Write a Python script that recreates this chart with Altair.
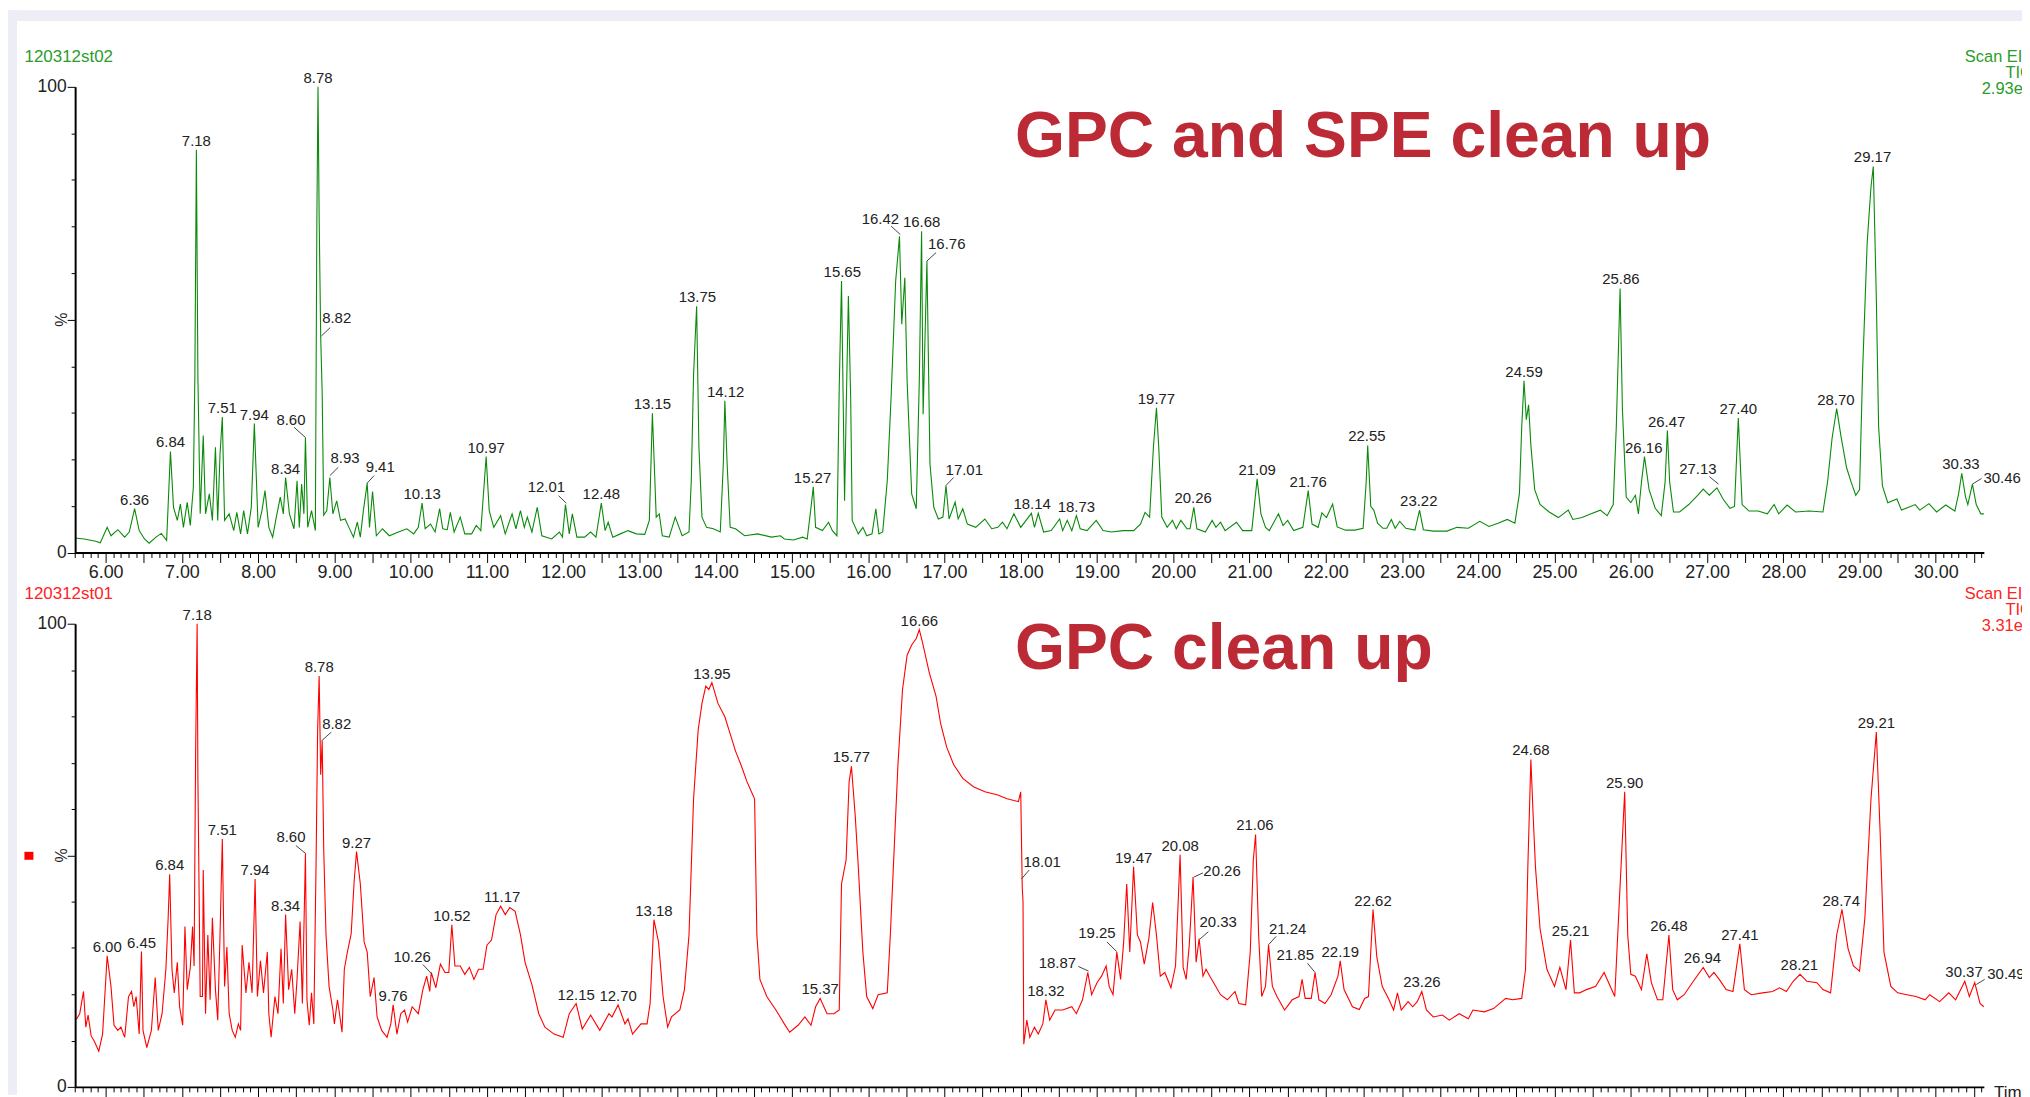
import altair as alt
import pandas as pd

# ------------------------------------------------------------------ data
# (retention time [min], relative intensity [%])
TOP_TRACE = [
    (5.60, 3.1), (5.72, 2.9), (5.87, 2.4), (5.93, 2.1), (6.02, 5.4), (6.07, 3.6), (6.16, 4.9), (6.25, 3.3),
    (6.31, 4.4), (6.38, 9.4), (6.44, 4.7), (6.51, 2.9), (6.57, 2.0), (6.66, 3.3), (6.73, 4.1), (6.80, 2.6),
    (6.85, 21.7), (6.89, 9.7), (6.94, 6.9), (6.98, 10.4), (7.02, 5.4), (7.07, 10.8), (7.11, 5.8), (7.15, 14.0),
    (7.17, 37.6), (7.19, 86.5), (7.21, 37.6), (7.24, 8.3), (7.28, 25.1), (7.31, 8.3), (7.36, 12.6), (7.40, 6.9),
    (7.44, 22.6), (7.47, 6.9), (7.50, 21.1), (7.53, 29.1), (7.56, 6.9), (7.62, 8.3), (7.68, 4.7), (7.72, 8.6),
    (7.77, 4.0), (7.81, 9.0), (7.86, 4.0), (7.91, 9.7), (7.95, 27.7), (8.00, 5.4), (8.05, 9.0), (8.09, 13.3),
    (8.14, 5.4), (8.19, 3.3), (8.23, 6.9), (8.29, 11.9), (8.33, 8.3), (8.36, 16.1), (8.41, 8.3), (8.47, 5.1),
    (8.51, 15.4), (8.54, 5.4), (8.57, 14.7), (8.60, 8.3), (8.62, 24.7), (8.65, 5.4), (8.70, 9.0), (8.75, 4.7),
    (8.77, 71.7), (8.785, 100.0), (8.80, 71.7), (8.82, 46.5), (8.84, 34.0), (8.86, 8.0), (8.90, 9.0), (8.94, 16.1),
    (8.98, 8.3), (9.03, 11.1), (9.08, 6.9), (9.14, 7.2), (9.19, 5.4), (9.25, 3.3), (9.30, 6.5), (9.34, 3.3),
    (9.38, 9.0), (9.43, 14.9), (9.46, 5.4), (9.50, 13.1), (9.55, 3.6), (9.63, 5.1), (9.72, 3.6), (9.84, 4.4),
    (9.95, 5.1), (10.04, 4.0), (10.10, 5.4), (10.15, 10.6), (10.19, 5.1), (10.26, 6.1), (10.32, 4.4), (10.38, 9.4),
    (10.42, 5.1), (10.48, 4.9), (10.52, 8.6), (10.57, 4.4), (10.65, 7.6), (10.71, 4.0), (10.80, 4.0), (10.86, 5.8),
    (10.92, 4.7), (10.99, 20.6), (11.03, 9.0), (11.09, 5.4), (11.18, 7.9), (11.24, 4.0), (11.33, 8.3), (11.38, 5.1),
    (11.44, 9.0), (11.49, 5.4), (11.53, 7.6), (11.59, 4.4), (11.66, 9.7), (11.72, 3.6), (11.85, 2.9), (11.95, 4.4),
    (11.99, 3.3), (12.03, 10.3), (12.08, 4.0), (12.12, 8.3), (12.18, 3.3), (12.28, 3.3), (12.36, 4.4), (12.43, 3.3),
    (12.50, 10.6), (12.55, 4.7), (12.59, 6.5), (12.65, 3.3), (12.75, 4.0), (12.85, 4.7), (12.96, 4.0), (13.07, 3.9),
    (13.13, 6.9), (13.17, 29.9), (13.22, 7.6), (13.26, 8.3), (13.30, 3.6), (13.39, 3.3), (13.47, 7.6), (13.56, 3.6),
    (13.65, 4.4), (13.68, 15.4), (13.71, 38.3), (13.75, 52.9), (13.78, 22.6), (13.82, 7.6), (13.88, 5.4), (13.97, 5.1),
    (14.06, 4.4), (14.10, 19.0), (14.12, 32.6), (14.15, 19.0), (14.19, 5.4), (14.26, 5.1), (14.38, 3.6), (14.55, 4.0),
    (14.73, 3.3), (14.85, 3.6), (14.90, 2.9), (15.02, 2.7), (15.14, 3.3), (15.20, 2.9), (15.24, 8.3), (15.28, 14.1),
    (15.31, 5.4), (15.40, 4.7), (15.48, 6.5), (15.53, 4.7), (15.59, 3.6), (15.62, 35.4), (15.65, 58.3), (15.69, 11.1),
    (15.71, 29.7), (15.74, 55.1), (15.77, 33.3), (15.79, 6.9), (15.87, 4.0), (15.93, 5.4), (15.98, 3.6), (16.05, 4.0),
    (16.10, 9.4), (16.14, 4.0), (16.19, 4.4), (16.25, 15.4), (16.30, 33.3), (16.36, 58.3), (16.41, 67.9), (16.44, 49.0),
    (16.48, 59.0), (16.51, 36.9), (16.57, 12.6), (16.63, 9.4), (16.67, 36.9), (16.70, 69.0), (16.72, 29.7), (16.77, 62.6),
    (16.81, 19.0), (16.86, 9.7), (16.92, 7.2), (16.98, 7.6), (17.02, 14.4), (17.06, 7.2), (17.14, 10.8), (17.18, 7.2),
    (17.24, 9.4), (17.30, 6.1), (17.41, 5.4), (17.53, 7.2), (17.62, 5.1), (17.70, 5.4), (17.76, 6.5), (17.82, 5.1),
    (17.91, 8.3), (18.00, 5.4), (18.14, 8.4), (18.18, 5.4), (18.23, 8.4), (18.30, 4.4), (18.40, 4.7), (18.51, 7.2),
    (18.55, 4.7), (18.61, 6.9), (18.67, 4.7), (18.73, 7.9), (18.78, 5.1), (18.87, 4.7), (18.99, 6.9), (19.08, 4.7),
    (19.19, 4.4), (19.34, 4.7), (19.48, 4.7), (19.57, 6.1), (19.63, 8.6), (19.69, 7.6), (19.74, 22.6), (19.78, 31.1),
    (19.81, 22.6), (19.85, 7.6), (19.92, 5.4), (19.99, 6.9), (20.04, 5.1), (20.10, 6.9), (20.18, 5.1), (20.22, 5.1),
    (20.27, 9.7), (20.31, 5.1), (20.42, 4.4), (20.51, 6.9), (20.56, 5.4), (20.62, 6.5), (20.68, 4.7), (20.83, 6.5),
    (20.91, 4.7), (21.03, 4.7), (21.10, 15.8), (21.15, 8.3), (21.21, 5.4), (21.26, 4.7), (21.38, 8.3), (21.44, 5.8),
    (21.50, 6.9), (21.58, 4.7), (21.70, 5.4), (21.77, 13.3), (21.82, 6.1), (21.90, 5.4), (21.95, 8.5), (22.01, 7.5),
    (22.09, 10.4), (22.15, 5.5), (22.26, 4.8), (22.38, 4.8), (22.49, 5.2), (22.53, 15.1), (22.55, 23.0), (22.59, 9.9),
    (22.63, 9.1), (22.68, 6.3), (22.75, 5.2), (22.80, 5.2), (22.86, 7.1), (22.91, 5.2), (22.97, 6.7), (23.05, 5.2),
    (23.17, 4.8), (23.23, 9.1), (23.28, 4.9), (23.41, 4.6), (23.59, 4.6), (23.72, 5.4), (23.87, 5.2), (24.02, 6.7),
    (24.14, 5.6), (24.26, 6.3), (24.38, 7.1), (24.48, 6.3), (24.54, 12.7), (24.57, 27.0), (24.60, 36.9), (24.63, 28.5),
    (24.66, 31.7), (24.69, 23.0), (24.74, 13.5), (24.81, 10.3), (24.93, 8.7), (25.05, 7.5), (25.18, 9.1), (25.24, 7.1),
    (25.36, 7.5), (25.48, 8.3), (25.60, 9.1), (25.69, 7.9), (25.77, 10.3), (25.81, 27.0), (25.86, 56.7), (25.89, 30.9),
    (25.94, 11.9), (26.00, 10.7), (26.06, 12.3), (26.10, 8.3), (26.14, 15.1), (26.18, 20.6), (26.24, 13.5), (26.32, 9.5),
    (26.40, 7.9), (26.45, 15.1), (26.48, 26.2), (26.51, 15.1), (26.56, 8.7), (26.64, 8.7), (26.76, 10.3), (26.88, 12.3),
    (26.95, 13.6), (27.03, 12.3), (27.13, 13.9), (27.21, 11.5), (27.30, 9.5), (27.36, 9.9), (27.41, 28.9), (27.46, 10.3),
    (27.55, 8.9), (27.67, 8.9), (27.79, 8.3), (27.88, 10.3), (27.94, 8.3), (28.05, 10.2), (28.16, 8.7), (28.34, 8.9),
    (28.52, 8.7), (28.58, 15.1), (28.64, 24.6), (28.70, 30.9), (28.76, 24.6), (28.83, 18.2), (28.89, 15.1), (28.95, 12.3),
    (29.00, 13.5), (29.04, 38.9), (29.10, 66.6), (29.15, 78.5), (29.18, 82.9), (29.22, 54.7), (29.25, 27.0), (29.30, 14.3),
    (29.37, 10.7), (29.49, 11.5), (29.55, 9.1), (29.73, 10.3), (29.79, 9.1), (29.91, 10.5), (30.01, 8.7), (30.13, 10.2),
    (30.25, 8.9), (30.30, 12.7), (30.34, 17.0), (30.39, 11.9), (30.42, 10.3), (30.48, 14.7), (30.53, 10.3), (30.59, 8.3),
    (30.63, 8.3),
]

BOTTOM_TRACE = [
    (5.60, 14.7), (5.62, 14.7), (5.66, 15.8), (5.71, 20.6), (5.74, 12.9), (5.77, 15.5), (5.81, 11.0), (5.85, 9.9),
    (5.91, 7.7), (5.96, 11.4), (6.02, 28.3), (6.07, 21.7), (6.11, 13.3), (6.16, 12.2), (6.20, 12.9), (6.25, 10.7),
    (6.30, 19.5), (6.34, 20.6), (6.37, 17.3), (6.40, 19.5), (6.44, 11.4), (6.47, 29.2), (6.49, 12.2), (6.54, 8.5),
    (6.60, 12.2), (6.65, 23.6), (6.69, 12.2), (6.74, 15.8), (6.79, 25.4), (6.82, 36.5), (6.84, 45.9), (6.87, 25.4),
    (6.90, 20.3), (6.94, 26.9), (6.97, 17.3), (7.01, 13.3), (7.04, 34.6), (7.07, 21.0), (7.11, 25.8), (7.14, 34.6),
    (7.16, 26.1), (7.18, 72.2), (7.20, 100.0), (7.21, 66.3), (7.24, 19.5), (7.27, 19.5), (7.28, 46.8), (7.31, 15.8),
    (7.34, 32.8), (7.37, 18.8), (7.40, 36.5), (7.44, 21.0), (7.47, 14.4), (7.50, 32.8), (7.53, 53.5), (7.56, 21.7),
    (7.59, 30.2), (7.62, 15.8), (7.66, 12.2), (7.70, 10.7), (7.74, 13.6), (7.77, 12.2), (7.79, 30.6), (7.84, 20.3),
    (7.88, 26.9), (7.92, 20.3), (7.96, 44.9), (7.99, 19.5), (8.03, 27.2), (8.07, 20.3), (8.12, 29.1), (8.14, 15.8),
    (8.17, 10.7), (8.22, 19.5), (8.26, 15.8), (8.30, 29.8), (8.33, 18.0), (8.36, 37.2), (8.40, 21.0), (8.44, 25.4),
    (8.48, 15.8), (8.51, 23.2), (8.55, 35.7), (8.58, 18.0), (8.62, 50.3), (8.64, 18.8), (8.67, 13.3), (8.70, 20.3),
    (8.73, 13.6), (8.76, 49.0), (8.78, 77.0), (8.80, 88.7), (8.82, 67.4), (8.84, 74.7), (8.86, 51.2), (8.89, 32.8),
    (8.93, 21.7), (8.98, 16.6), (9.00, 13.6), (9.04, 18.8), (9.06, 16.6), (9.10, 11.8), (9.13, 25.4), (9.17, 29.1),
    (9.22, 33.1), (9.26, 44.6), (9.29, 50.8), (9.34, 43.8), (9.39, 31.3), (9.43, 29.1), (9.47, 19.5), (9.52, 23.6),
    (9.56, 15.1), (9.62, 12.2), (9.69, 10.7), (9.74, 13.6), (9.77, 17.7), (9.82, 11.4), (9.87, 15.8), (9.92, 16.6),
    (9.96, 14.0), (10.02, 17.3), (10.10, 15.8), (10.16, 21.0), (10.21, 23.9), (10.25, 20.6), (10.27, 24.7), (10.33, 21.4),
    (10.39, 26.5), (10.45, 24.7), (10.50, 24.7), (10.54, 35.0), (10.58, 26.1), (10.65, 26.1), (10.71, 24.3), (10.77, 25.8),
    (10.83, 23.2), (10.89, 25.4), (10.95, 25.4), (11.00, 30.6), (11.06, 31.7), (11.12, 37.2), (11.18, 39.0), (11.24, 37.2),
    (11.30, 38.7), (11.37, 37.9), (11.44, 32.8), (11.50, 26.9), (11.59, 22.1), (11.68, 15.8), (11.76, 12.9), (11.88, 11.4),
    (12.00, 10.7), (12.08, 15.8), (12.17, 18.0), (12.25, 12.5), (12.36, 15.5), (12.48, 12.2), (12.60, 15.8), (12.64, 15.1),
    (12.72, 17.7), (12.81, 13.6), (12.85, 14.7), (12.91, 11.4), (13.02, 13.6), (13.10, 13.6), (13.14, 18.0), (13.19, 36.1),
    (13.25, 31.3), (13.31, 19.5), (13.37, 12.9), (13.42, 15.1), (13.53, 16.6), (13.59, 21.0), (13.65, 32.8), (13.71, 62.2),
    (13.77, 77.0), (13.82, 82.8), (13.87, 86.5), (13.91, 85.8), (13.95, 87.3), (14.03, 82.8), (14.12, 79.9), (14.19, 76.2),
    (14.26, 72.5), (14.33, 69.6), (14.41, 65.9), (14.48, 63.3), (14.51, 62.2), (14.54, 32.8), (14.58, 23.2), (14.67, 19.5),
    (14.79, 16.6), (14.90, 13.6), (14.97, 11.8), (15.08, 13.3), (15.17, 15.1), (15.25, 13.3), (15.31, 17.3), (15.37, 19.1),
    (15.46, 15.8), (15.55, 15.8), (15.62, 16.6), (15.65, 43.8), (15.71, 49.0), (15.75, 65.9), (15.78, 69.2), (15.83, 58.5),
    (15.87, 47.5), (15.93, 29.1), (15.98, 19.5), (16.06, 16.9), (16.13, 19.9), (16.25, 20.3), (16.29, 32.8), (16.33, 47.5),
    (16.39, 69.6), (16.45, 85.8), (16.51, 93.2), (16.57, 95.4), (16.63, 96.8), (16.67, 98.7), (16.71, 96.1), (16.80, 89.5),
    (16.89, 84.3), (16.95, 78.4), (17.03, 73.3), (17.12, 69.6), (17.24, 66.6), (17.38, 64.8), (17.53, 63.7), (17.70, 63.0),
    (17.82, 62.2), (17.97, 61.6), (18.00, 63.7), (18.02, 43.1), (18.03, 40.1), (18.04, 9.2), (18.08, 14.4), (18.12, 10.7),
    (18.18, 12.9), (18.23, 11.4), (18.29, 13.6), (18.33, 18.8), (18.38, 14.4), (18.45, 16.6), (18.55, 16.6), (18.67, 17.3),
    (18.73, 15.8), (18.81, 18.8), (18.88, 24.7), (18.93, 19.9), (19.00, 22.5), (19.06, 23.9), (19.12, 26.1), (19.16, 21.7),
    (19.21, 19.9), (19.26, 29.1), (19.31, 23.2), (19.35, 31.3), (19.39, 43.8), (19.43, 29.1), (19.48, 47.5), (19.53, 32.8),
    (19.57, 31.3), (19.62, 26.5), (19.68, 32.0), (19.73, 39.8), (19.78, 32.8), (19.83, 23.9), (19.89, 24.7), (19.97, 21.4),
    (20.03, 26.1), (20.09, 50.1), (20.13, 25.8), (20.17, 23.2), (20.21, 30.6), (20.26, 45.3), (20.30, 26.9), (20.34, 32.0),
    (20.39, 23.9), (20.43, 25.4), (20.48, 23.9), (20.53, 22.5), (20.62, 19.9), (20.71, 18.8), (20.81, 20.6), (20.86, 18.0),
    (20.95, 17.7), (21.01, 29.1), (21.05, 49.0), (21.08, 54.5), (21.12, 32.8), (21.16, 19.5), (21.21, 21.7), (21.25, 30.7),
    (21.30, 21.7), (21.36, 19.5), (21.46, 16.6), (21.56, 18.8), (21.65, 19.5), (21.69, 23.2), (21.73, 19.1), (21.81, 19.1),
    (21.86, 24.7), (21.91, 18.8), (21.99, 18.0), (22.07, 19.9), (22.16, 23.9), (22.19, 27.2), (22.24, 21.0), (22.35, 17.3),
    (22.44, 16.7), (22.51, 19.1), (22.56, 19.5), (22.59, 29.1), (22.62, 38.3), (22.67, 28.0), (22.74, 21.7), (22.83, 18.8),
    (22.89, 16.6), (22.94, 20.3), (22.99, 16.6), (23.08, 18.4), (23.14, 17.3), (23.20, 18.4), (23.26, 20.6), (23.32, 16.6),
    (23.41, 15.1), (23.53, 15.5), (23.62, 14.4), (23.75, 15.8), (23.87, 14.7), (23.93, 16.6), (24.08, 16.2), (24.20, 16.9),
    (24.36, 19.1), (24.45, 18.8), (24.57, 19.1), (24.62, 25.4), (24.65, 47.5), (24.69, 70.7), (24.72, 58.5), (24.75, 47.5),
    (24.81, 34.2), (24.90, 25.4), (25.00, 21.7), (25.07, 25.8), (25.15, 21.0), (25.21, 31.7), (25.26, 20.3), (25.33, 20.3),
    (25.42, 21.0), (25.54, 21.7), (25.65, 24.7), (25.79, 19.5), (25.85, 40.1), (25.92, 63.7), (25.96, 32.8), (26.00, 24.3),
    (26.06, 23.9), (26.14, 21.0), (26.21, 28.7), (26.27, 22.5), (26.35, 18.8), (26.42, 18.8), (26.50, 32.8), (26.55, 21.0),
    (26.61, 18.8), (26.70, 19.9), (26.82, 22.8), (26.95, 25.8), (27.03, 23.6), (27.09, 24.7), (27.16, 23.2), (27.25, 21.0),
    (27.34, 20.6), (27.43, 30.9), (27.49, 21.0), (27.58, 19.9), (27.73, 20.3), (27.86, 20.6), (27.95, 21.4), (28.04, 20.6),
    (28.13, 22.8), (28.22, 24.3), (28.31, 22.8), (28.44, 22.5), (28.52, 21.0), (28.62, 20.3), (28.70, 32.8), (28.77, 38.3),
    (28.85, 29.8), (28.92, 26.1), (29.00, 25.0), (29.07, 36.5), (29.15, 62.2), (29.22, 76.6), (29.27, 54.9), (29.32, 29.1),
    (29.41, 21.7), (29.50, 20.3), (29.62, 19.9), (29.74, 19.5), (29.86, 18.8), (29.92, 19.9), (30.05, 18.4), (30.17, 20.3),
    (30.26, 18.8), (30.38, 22.8), (30.44, 19.5), (30.51, 22.5), (30.58, 18.0), (30.63, 17.3),
]

# peak labels placed straight above the peak: (text, time, intensity)
TOP_PEAK_LABELS = [
    ("6.36", 6.38, 9.4), ("6.84", 6.85, 21.7), ("7.18", 7.19, 86.5), ("7.51", 7.53, 29.1), ("7.94", 7.95, 27.7),
    ("8.34", 8.36, 16.1), ("8.78", 8.785, 100.0), ("10.13", 10.15, 10.6), ("10.97", 10.99, 20.6), ("12.48", 12.50, 10.6),
    ("13.15", 13.17, 29.9), ("13.75", 13.76, 52.9), ("14.12", 14.13, 32.6), ("15.27", 15.27, 14.1), ("15.65", 15.66, 58.3),
    ("16.68", 16.70, 69.0), ("18.14", 18.15, 8.4), ("18.73", 18.73, 7.9), ("19.77", 19.78, 31.1), ("20.26", 20.26, 9.7),
    ("21.09", 21.10, 15.8), ("21.76", 21.77, 13.3), ("22.55", 22.54, 23.0), ("23.22", 23.22, 9.1), ("24.59", 24.60, 36.9),
    ("25.86", 25.87, 56.7), ("26.16", 26.17, 20.6), ("26.47", 26.47, 26.2), ("27.40", 27.41, 28.9), ("28.70", 28.69, 30.9),
    ("29.17", 29.17, 82.9), ("30.33", 30.33, 17.0),
]
BOTTOM_PEAK_LABELS = [
    ("6.00", 6.02, 28.3), ("6.45", 6.47, 29.2), ("6.84", 6.84, 45.9), ("7.18", 7.20, 100.0), ("7.51", 7.53, 53.5),
    ("7.94", 7.96, 44.9), ("8.34", 8.36, 37.2), ("8.78", 8.80, 88.7), ("9.27", 9.29, 50.8), ("9.76", 9.77, 17.7),
    ("10.52", 10.54, 35.0), ("11.17", 11.20, 39.0), ("12.15", 12.17, 18.0), ("12.70", 12.72, 17.7), ("13.18", 13.19, 36.1),
    ("13.95", 13.95, 87.3), ("15.37", 15.37, 19.1), ("15.77", 15.78, 69.2), ("16.66", 16.67, 98.7), ("18.32", 18.33, 18.8),
    ("19.47", 19.48, 47.5), ("20.08", 20.09, 50.1), ("21.06", 21.07, 54.5), ("22.19", 22.19, 27.2), ("22.62", 22.62, 38.3),
    ("23.26", 23.26, 20.6), ("24.68", 24.69, 70.7), ("25.21", 25.21, 31.7), ("25.90", 25.92, 63.7), ("26.48", 26.50, 32.8),
    ("26.94", 26.94, 25.8), ("27.41", 27.43, 30.9), ("28.21", 28.21, 24.3), ("28.74", 28.76, 38.3), ("29.21", 29.22, 76.6),
    ("30.37", 30.37, 22.8),
]
# labels with a leader line: (text, label time, label %, leader start time, leader start %, peak time, peak %)
TOP_CALLOUTS = [
    ("8.60", 8.43, 27.1, 8.47, 26.9, 8.62, 24.7),
    ("8.82", 9.03, 49.0, 8.945, 48.3, 8.83, 46.5),
    ("8.93", 9.14, 18.9, 9.05, 18.3, 8.94, 16.5),
    ("9.41", 9.60, 17.0, 9.52, 16.5, 9.43, 14.9),
    ("12.01", 11.78, 12.8, 11.94, 12.2, 12.04, 10.6),
    ("16.42", 16.16, 70.4, 16.30, 70.1, 16.42, 68.3),
    ("16.76", 17.03, 64.9, 16.89, 64.4, 16.77, 62.6),
    ("17.01", 17.26, 16.5, 17.12, 16.1, 17.02, 14.4),
    ("27.13", 26.88, 16.7, 27.03, 16.3, 27.15, 14.7),
    ("30.46", 30.87, 14.7, 30.60, 15.9, 30.48, 14.7),
]
BOTTOM_CALLOUTS = [
    ("8.60", 8.43, 52.6, 8.495, 52.1, 8.63, 50.3),
    ("8.82", 9.03, 77.0, 8.96, 76.6, 8.83, 74.7),
    ("10.26", 10.02, 26.7, 10.16, 26.4, 10.27, 24.5),
    ("18.01", 18.28, 47.3, 18.11, 46.8, 18.01, 44.9),
    ("18.87", 18.48, 25.4, 18.755, 26.0, 18.89, 25.0),
    ("19.25", 19.00, 32.0, 19.13, 31.3, 19.26, 29.2),
    ("20.26", 20.64, 45.4, 20.39, 46.2, 20.27, 45.3),
    ("20.33", 20.59, 34.2, 20.46, 33.5, 20.35, 31.9),
    ("21.24", 21.50, 32.9, 21.35, 32.5, 21.25, 30.7),
    ("21.85", 21.60, 27.2, 21.76, 26.7, 21.86, 24.7),
    ("30.49", 30.92, 23.0, 30.64, 23.2, 30.53, 22.1),
]

TICK_LABELS = ["6.00", "7.00", "8.00", "9.00", "10.00", "11.00", "12.00", "13.00", "14.00", "15.00", "16.00",
               "17.00", "18.00", "19.00", "20.00", "21.00", "22.00", "23.00", "24.00", "25.00", "26.00", "27.00",
               "28.00", "29.00", "30.00"]
Y_TICKS = [0, 10, 20, 30, 40, 50, 60, 70, 80, 90, 100]

# ------------------------------------------------------------------ layout / style
W, H = 2022, 1089
X_DOMAIN = [5.6, 30.63]
X_RANGE = [67.4, 1983.7]
TOP_Y_RANGE = [544.5, 77.0]
BOT_Y_RANGE = [1081.0, 616.0]
FONT = "Liberation Sans"
GREEN = "#0A8A0A"
GREEN_TXT = "#2A9D2A"
RED = "#FF0000"
TITLE_RED = "#BC2A36"
LAVENDER = "#ECEDF5"
INK = "#222222"

MINOR_TICKS = [round(5.6 + 0.1 * i, 1) for i in range(251)]
HALF_TEST = "abs(datum.value * 2 - round(datum.value * 2)) < 0.001"
LABEL_EXPR = "abs(datum.value - round(datum.value)) < 0.001 ? format(datum.value, '.2f') : ''"


def x_scale():
    return alt.Scale(domain=X_DOMAIN, range=X_RANGE, nice=False, zero=False)


def y_scale(rng):
    return alt.Scale(domain=[0, 100], range=rng, nice=False, zero=False)


def x_axis(offset, labels):
    return alt.Axis(
        orient="bottom", offset=offset, values=MINOR_TICKS, title="", grid=False, zindex=5,
        domainColor="#000000", domainWidth=2, tickColor="#000000", tickWidth=1,
        tickSize={"condition": {"test": HALF_TEST, "value": 10}, "value": 5},
        labelExpr=LABEL_EXPR if labels else "''",
        labelFont=FONT, labelFontSize=18, labelColor=INK, labelPadding=1,
        labelOverlap=False, labelFlush=False, labelBound=False,
    )


def y_axis():
    return alt.Axis(
        orient="left", offset=-X_RANGE[0], values=Y_TICKS, title="", grid=False, zindex=5,
        domainColor="#000000", domainWidth=2, tickColor="#000000", tickWidth=1,
        tickSize={"condition": {"test": "datum.value % 50 == 0", "value": 8}, "value": 4},
        labelExpr="datum.value == 0 || datum.value == 100 ? datum.label : ''",
        labelFont=FONT, labelFontSize=17.5, labelColor=INK, labelPadding=1,
        labelOverlap=False, labelFlush=False,
    )


def panel(trace, peak_labels, callouts, y_rng, color, x_offset, x_labels):
    tdf = pd.DataFrame(trace, columns=["t", "p"])
    ldf = pd.DataFrame(peak_labels, columns=["label", "t", "p"])
    cdf = pd.DataFrame(callouts, columns=["label", "lt", "lp", "ft", "fp", "pt", "pp"])
    line = alt.Chart(tdf).mark_line(color=color, strokeWidth=1.1).encode(
        x=alt.X("t:Q", scale=x_scale(), axis=x_axis(x_offset, x_labels)),
        y=alt.Y("p:Q", scale=y_scale(y_rng), axis=y_axis()),
    )
    labels = alt.Chart(ldf).mark_text(
        align="center", baseline="alphabetic", dy=-4, font=FONT, fontSize=15, color=INK
    ).encode(
        x=alt.X("t:Q", scale=x_scale(), axis=None),
        y=alt.Y("p:Q", scale=y_scale(y_rng), axis=None),
        text="label:N",
    )
    call_text = alt.Chart(cdf).mark_text(
        align="center", baseline="alphabetic", dy=-1, font=FONT, fontSize=15, color=INK
    ).encode(
        x=alt.X("lt:Q", scale=x_scale(), axis=None),
        y=alt.Y("lp:Q", scale=y_scale(y_rng), axis=None),
        text="label:N",
    )
    leaders = alt.Chart(cdf).mark_rule(color="#444444", strokeWidth=1).encode(
        x=alt.X("ft:Q", scale=x_scale(), axis=None),
        y=alt.Y("fp:Q", scale=y_scale(y_rng), axis=None),
        x2="pt:Q",
        y2="pp:Q",
    )
    return [line, leaders, labels, call_text]


ONE = pd.DataFrame({"k": [0]})


def pixel_text(s, x, y, **props):
    return alt.Chart(ONE).mark_text(text=s, font=FONT, **props).encode(x=alt.value(x), y=alt.value(y))


def pixel_rect(x, x2, y, y2, color):
    return alt.Chart(ONE).mark_rect(color=color).encode(
        x=alt.value(x), x2=alt.value(x2), y=alt.value(y), y2=alt.value(y2)
    )


top = panel(TOP_TRACE, TOP_PEAK_LABELS, TOP_CALLOUTS, TOP_Y_RANGE, GREEN, TOP_Y_RANGE[0] - H, True)
bottom = panel(BOTTOM_TRACE, BOTTOM_PEAK_LABELS, BOTTOM_CALLOUTS, BOT_Y_RANGE, RED, BOT_Y_RANGE[0] - H, False)

# lavender page strips around the white panel (they never overlap the axes)
decor = [
    pixel_rect(0, W, 0, 11, LAVENDER),
    pixel_rect(0, 9, 0, H, LAVENDER),
]
texts = [
    pixel_text("120312st02", 16.6, 52, align="left", baseline="alphabetic", fontSize=17, color=GREEN_TXT),
    pixel_text("Scan EI+", 2032, 52, align="right", baseline="alphabetic", fontSize=16.5, color=GREEN_TXT),
    pixel_text("TIC", 2032, 68.5, align="right", baseline="alphabetic", fontSize=16.5, color=GREEN_TXT),
    pixel_text("2.93e8", 2032, 84, align="right", baseline="alphabetic", fontSize=16.5, color=GREEN_TXT),
    pixel_text("%", 54, (TOP_Y_RANGE[0] + TOP_Y_RANGE[1]) / 2, align="center", baseline="middle",
               angle=270, fontSize=16, color=INK),
    pixel_text("GPC and SPE clean up", 1011, 147.5, align="left", baseline="alphabetic",
               fontSize=64.5, fontWeight="bold", color=TITLE_RED),
    pixel_text("120312st01", 16.6, 591, align="left", baseline="alphabetic", fontSize=17, color="#FF2222"),
    pixel_text("Scan EI+", 2032, 591, align="right", baseline="alphabetic", fontSize=16.5, color="#FF2222"),
    pixel_text("TIC", 2032, 607.5, align="right", baseline="alphabetic", fontSize=16.5, color="#FF2222"),
    pixel_text("3.31e8", 2032, 623, align="right", baseline="alphabetic", fontSize=16.5, color="#FF2222"),
    pixel_text("%", 54, (BOT_Y_RANGE[0] + BOT_Y_RANGE[1]) / 2, align="center", baseline="middle",
               angle=270, fontSize=16, color=INK),
    pixel_text("GPC clean up", 1011, 661.6, align="left", baseline="alphabetic",
               fontSize=64.5, fontWeight="bold", color=TITLE_RED),
    pixel_text("Time", 1994, 1079, align="left", baseline="top", fontSize=17, color=INK),
]
marker = [pixel_rect(16.5, 25.5, 845, 853, RED)]

chart = (
    alt.layer(*decor, *top, *bottom, *texts, *marker)
    .resolve_scale(x="independent", y="independent")
    .properties(width=W, height=H, autosize=alt.AutoSizeParams(type="none"), padding=0, background="#FFFFFF")
    .configure_view(strokeWidth=0)
)

chart.save("out.html", embed_options={"renderer": "svg", "actions": False})
